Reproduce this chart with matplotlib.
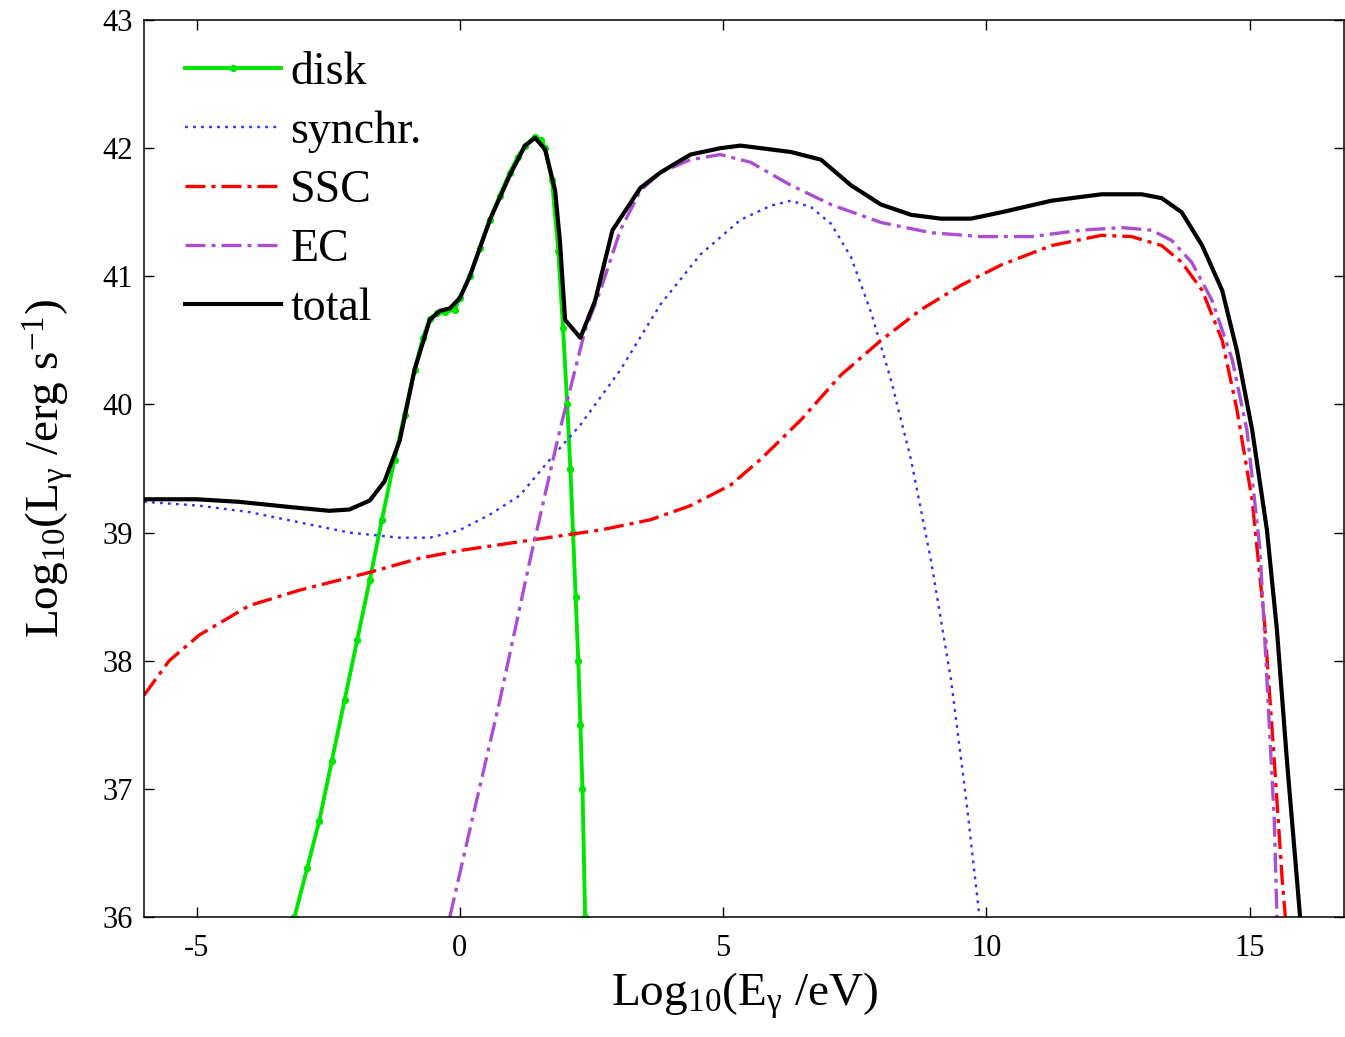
import matplotlib.pyplot as plt

plt.rcParams['font.family'] = ['Liberation Serif', 'DejaVu Serif']
plt.rcParams['mathtext.default'] = 'regular'
plt.rcParams['axes.unicode_minus'] = False

# log10(E / eV) and log10(L / erg s^-1) for each component
disk_x = [-3.14, -2.9, -2.67, -2.43, -2.19, -1.95, -1.71, -1.48, -1.24, -1.05,
          -0.86, -0.7, -0.57, -0.43, -0.29, -0.1, 0.0, 0.19, 0.38, 0.57, 0.76,
          0.95, 1.1, 1.24, 1.43, 1.55, 1.62, 1.75, 1.87, 1.96, 2.04, 2.1, 2.15,
          2.2, 2.25, 2.29, 2.33, 2.38]
disk_y = [36.0, 36.38, 36.75, 37.22, 37.69, 38.16, 38.63, 39.1, 39.57, 39.92,
          40.27, 40.52, 40.67, 40.71, 40.72, 40.74, 40.83, 41.0, 41.22, 41.44,
          41.63, 41.81, 41.93, 42.02, 42.09, 42.06, 42.0, 41.75, 41.2, 40.6,
          40.0, 39.5, 39.0, 38.5, 38.0, 37.5, 37.0, 36.0]

sync_x = [-6.0, -4.95, -4.0, -3.05, -2.1, -1.14, -0.57, 0.0, 0.57, 1.14, 1.71,
          2.29, 3.05, 3.81, 4.57, 5.33, 5.9, 6.29, 6.67, 7.05, 7.43, 7.81, 8.19,
          8.57, 8.95, 9.33, 9.62, 9.87]
sync_y = [39.24, 39.21, 39.16, 39.08, 39.0, 38.96, 38.96, 39.02, 39.14, 39.29,
          39.57, 39.84, 40.27, 40.78, 41.17, 41.44, 41.55, 41.59, 41.54, 41.41,
          41.15, 40.72, 40.19, 39.57, 38.78, 37.85, 36.91, 36.0]

ssc_x = [-6.0, -5.52, -4.95, -4.0, -3.05, -1.71, -0.76, 0.0, 1.33, 2.67, 3.62,
         4.38, 5.14, 5.71, 6.48, 7.24, 8.0, 8.76, 9.52, 10.29, 11.24, 12.19,
         12.76, 13.33, 13.71, 14.1, 14.48, 14.76, 15.05, 15.28, 15.47, 15.62,
         15.68]
ssc_y = [37.73, 38.0, 38.2, 38.43, 38.55, 38.69, 38.8, 38.86, 38.94, 39.02,
         39.1, 39.21, 39.37, 39.57, 39.88, 40.23, 40.5, 40.74, 40.93, 41.09,
         41.24, 41.32, 41.31, 41.24, 41.11, 40.89, 40.5, 39.96, 39.25, 38.32,
         37.22, 36.29, 36.0]

ec_x = [-0.19, 0.19, 0.76, 1.33, 1.9, 2.38, 2.67, 3.05, 3.43, 3.81, 4.38, 4.95,
        5.52, 6.29, 7.05, 8.0, 8.95, 9.9, 10.86, 11.81, 12.57, 13.14, 13.52,
        13.9, 14.29, 14.67, 14.95, 15.2, 15.33, 15.47, 15.52]
ec_y = [36.0, 36.68, 37.69, 38.78, 39.8, 40.58, 40.89, 41.36, 41.67, 41.81,
        41.91, 41.95, 41.89, 41.71, 41.56, 41.42, 41.34, 41.31, 41.31, 41.36,
        41.38, 41.36, 41.28, 41.11, 40.81, 40.35, 39.8, 38.86, 37.85, 36.75,
        36.0]

tot_x = [-6.0, -5.0, -4.19, -3.24, -2.48, -2.1, -1.71, -1.43, -1.14, -0.86,
         -0.57, -0.38, -0.19, 0.0, 0.19, 0.57, 0.95, 1.24, 1.43, 1.62, 1.81,
         1.9, 2.0, 2.29, 2.57, 2.9, 3.43, 3.81, 4.38, 4.95, 5.33, 6.29, 6.86,
         7.43, 8.0, 8.57, 9.14, 9.71, 10.29, 11.24, 12.19, 12.95, 13.33, 13.71,
         14.1, 14.48, 14.76, 15.05, 15.33, 15.52, 15.71, 15.87, 15.96]
tot_y = [39.26, 39.26, 39.24, 39.2, 39.17, 39.18, 39.25, 39.4, 39.72, 40.27,
         40.66, 40.73, 40.75, 40.83, 41.0, 41.44, 41.79, 42.02, 42.08, 41.99,
         41.67, 41.28, 40.66, 40.52, 40.81, 41.36, 41.69, 41.81, 41.95, 42.0,
         42.02, 41.97, 41.91, 41.71, 41.56, 41.48, 41.45, 41.45, 41.5, 41.59,
         41.64, 41.64, 41.61, 41.5, 41.24, 40.89, 40.42, 39.8, 39.02, 38.24,
         37.22, 36.44, 36.0]

fig = plt.figure(figsize=(13.45, 10.37), dpi=100)
ax = fig.add_axes([0.107, 0.1157, 0.8925, 0.865])

ax.plot(disk_x, disk_y, color='#00e600', lw=2.8, marker='o', ms=4.2,
        label='disk')
ax.plot(sync_x, sync_y, color='#3030ff', lw=1.7, ls=(0, (1.2, 2.2)),
        label='synchr.')
ax.plot(ssc_x, ssc_y, color='#ff0000', lw=2.4, ls=(0, (6, 1.8, 1.2, 1.8)),
        label='SSC')
ax.plot(ec_x, ec_y, color='#a94fd0', lw=2.4, ls=(0, (6, 1.8, 1.2, 1.8)),
        label='EC')
ax.plot(tot_x, tot_y, color='black', lw=3.0, label='total')

ax.set_xlim(-6, 16.8)
ax.set_ylim(36, 43)
ax.set_xticks([-5, 0, 5, 10, 15])
ax.set_yticks(range(36, 44))
ax.tick_params(direction='in', length=7, width=1.0, labelsize=22,
               top=True, right=True)
ax.tick_params(axis='x', pad=12)
ax.tick_params(axis='y', pad=8)
for sp in ax.spines.values():
    sp.set_linewidth(1.1)

ax.set_xlabel(r'Log$_{10}$(E$_{γ}$ /eV)', fontsize=34, labelpad=6)
ax.set_ylabel(r'Log$_{10}$(L$_{γ}$ /erg s$^{-1}$)', fontsize=34, labelpad=20)

ax.legend(loc='upper left', bbox_to_anchor=(0.015, 0.99), frameon=False,
          fontsize=33, handlelength=2.1, handletextpad=0.2,
          labelspacing=0.36, borderpad=0, numpoints=1)

fig.savefig('out.png', dpi=100)
